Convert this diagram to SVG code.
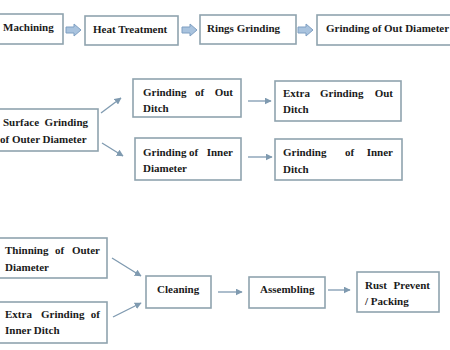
<svg xmlns="http://www.w3.org/2000/svg" width="450" height="350" viewBox="0 0 450 350">
<defs>
<style>
.box{fill:#fff;stroke:#8fa3ae;stroke-width:1.6}
.t{font-family:"Liberation Serif","Times New Roman",serif;font-size:11px;font-weight:bold;fill:#1a1a1a}
.e{text-anchor:end}
.blk{fill:#a9c3de;stroke:#7f9fc2;stroke-width:1}
.ln{stroke:#7f9ab0;stroke-width:1.3;fill:none;marker-end:url(#ah)}
</style>
<marker id="ah" viewBox="0 0 10 10" refX="9" refY="5" markerWidth="7" markerHeight="7" markerUnits="userSpaceOnUse" orient="auto">
<path d="M0,0 L10,5 L0,10 z" fill="#7f9ab0"/>
</marker>
</defs>
<rect width="450" height="350" fill="#fff"/>
<g id="connectors">
<path class="blk" d="M66,27 H74 V24 L81,30 L74,36 V33 H66 z"/>
<path class="blk" d="M182,27 H190 V24 L197,30 L190,36 V33 H182 z"/>
<path class="blk" d="M298,27 H306 V24 L313,30 L306,36 V33 H298 z"/>
<line class="ln" x1="101" y1="113" x2="121" y2="98"/>
<line class="ln" x1="102" y1="143" x2="123" y2="156"/>
<line class="ln" x1="248" y1="101" x2="271" y2="101"/>
<line class="ln" x1="248" y1="157" x2="272" y2="157"/>
<line class="ln" x1="112" y1="258" x2="141" y2="276"/>
<line class="ln" x1="113" y1="317" x2="141" y2="303"/>
<line class="ln" x1="218" y1="292" x2="242" y2="292"/>
<line class="ln" x1="328" y1="290" x2="350" y2="290"/>
</g>
<g id="machining"><rect class="box" x="-2" y="14" width="65" height="30"/><text class="t" x="3" y="31">Machining</text></g>
<g id="heat-treatment"><rect class="box" x="85" y="16" width="93" height="29"/><text class="t" x="93" y="33">Heat Treatment</text></g>
<g id="rings-grinding"><rect class="box" x="200" y="15" width="96" height="29"/><text class="t" x="207" y="32">Rings Grinding</text></g>
<g id="grinding-out-diameter"><rect class="box" x="317" y="15" width="136" height="30"/><text class="t" x="326" y="32">Grinding of Out Diameter</text></g>
<g id="surface-grinding"><rect class="box" x="-2" y="109" width="100" height="42"/>
<text class="t" x="3" y="126">Surface</text><text class="t e" x="88" y="126">Grinding</text>
<text class="t" x="0" y="143">of Outer Diameter</text></g>
<g id="grinding-out-ditch"><rect class="box" x="133" y="79" width="108" height="38"/>
<text class="t" x="143" y="96">Grinding</text><text class="t" x="195" y="96">of</text><text class="t e" x="233" y="96">Out</text>
<text class="t" x="143" y="112">Ditch</text></g>
<g id="extra-grinding-out-ditch"><rect class="box" x="275" y="81" width="126" height="40"/>
<text class="t" x="283" y="97">Extra</text><text class="t" x="320" y="97">Grinding</text><text class="t e" x="393" y="97">Out</text>
<text class="t" x="283" y="113">Ditch</text></g>
<g id="grinding-inner-diameter"><rect class="box" x="135" y="138" width="106" height="42"/>
<text class="t" x="143" y="156">Grinding</text><text class="t" x="189" y="156">of</text><text class="t e" x="233" y="156">Inner</text>
<text class="t" x="143" y="172">Diameter</text></g>
<g id="grinding-inner-ditch"><rect class="box" x="275" y="139" width="127" height="41"/>
<text class="t" x="283" y="156">Grinding</text><text class="t" x="345" y="156">of</text><text class="t e" x="393" y="156">Inner</text>
<text class="t" x="283" y="173">Ditch</text></g>
<g id="thinning-outer-diameter"><rect class="box" x="-2" y="238" width="109" height="40"/>
<text class="t" x="5" y="254">Thinning</text><text class="t" x="55" y="254">of</text><text class="t e" x="100" y="254">Outer</text>
<text class="t" x="5" y="271">Diameter</text></g>
<g id="extra-grinding-inner-ditch"><rect class="box" x="-2" y="302" width="109" height="41"/>
<text class="t" x="5" y="318">Extra</text><text class="t" x="41" y="318">Grinding</text><text class="t e" x="100" y="318">of</text>
<text class="t" x="5" y="334">Inner Ditch</text></g>
<g id="cleaning"><rect class="box" x="146" y="276" width="65" height="32"/><text class="t" x="157" y="293">Cleaning</text></g>
<g id="assembling"><rect class="box" x="249" y="277" width="76" height="31"/><text class="t" x="260" y="293">Assembling</text></g>
<g id="rust-prevent"><rect class="box" x="357" y="272" width="82" height="40"/>
<text class="t" x="365" y="289">Rust</text><text class="t e" x="430" y="289">Prevent</text>
<text class="t" x="365" y="305">/ Packing</text></g>
</svg>
